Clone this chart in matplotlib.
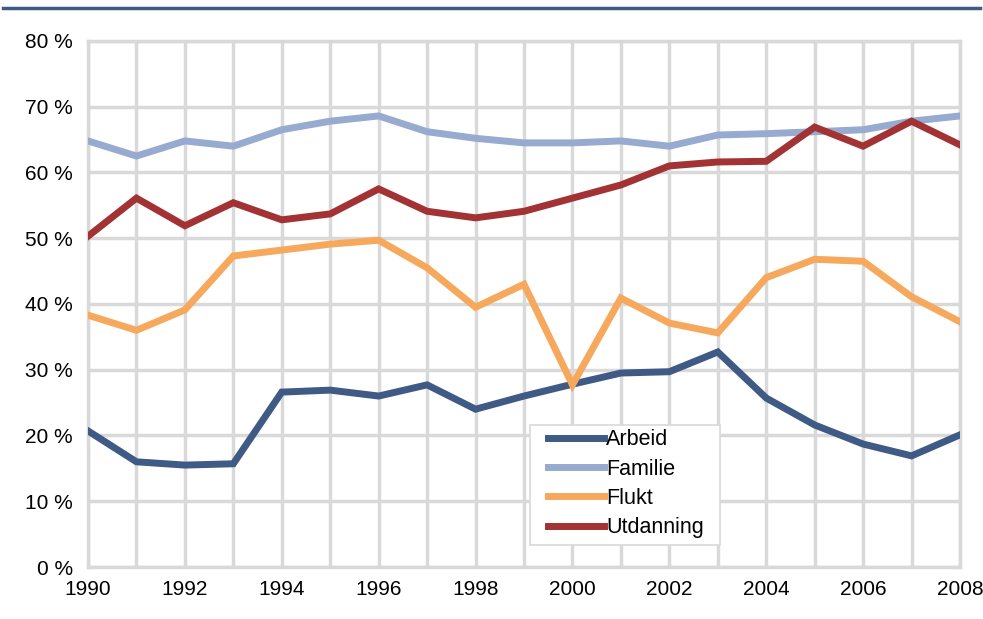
import matplotlib.pyplot as plt
from matplotlib.patches import Rectangle
from matplotlib.ticker import FuncFormatter

plt.rcParams['font.family'] = ['Liberation Sans', 'DejaVu Sans']

#Data
years = list(range(1990, 2009))
arbeid = [20.7, 16.0, 15.5, 15.7, 26.6, 26.9, 26.0, 27.7, 24.0, 26.0,
          27.8, 29.5, 29.7, 32.7, 25.7, 21.6, 18.7, 16.9, 20.1]
familie = [64.8, 62.5, 64.8, 64.0, 66.5, 67.8, 68.6, 66.2, 65.2, 64.5,
           64.5, 64.8, 64.0, 65.7, 65.9, 66.2, 66.5, 67.8, 68.6]
flukt = [38.3, 36.0, 39.1, 47.3, 48.2, 49.1, 49.7, 45.5, 39.5, 43.0,
         27.7, 40.9, 37.1, 35.6, 44.0, 46.8, 46.5, 41.1, 37.3]
utdanning = [50.3, 56.1, 51.9, 55.4, 52.8, 53.7, 57.5, 54.1, 53.1, 54.1,
             56.1, 58.1, 61.0, 61.6, 61.7, 66.9, 64.0, 67.8, 64.2]

series = [("Arbeid", arbeid, "#3E5A85"),
          ("Familie", familie, "#97AACF"),
          ("Flukt", flukt, "#F6A95C"),
          ("Utdanning", utdanning, "#A33234")]

fig = plt.figure(figsize=(9.83, 6.19), dpi=100)
ax = fig.add_axes([0.0895, 0.084, 0.8871, 0.8498])

for name, vals, col in series:
    ax.plot(years, vals, color=col, lw=5, label=name, zorder=3,
            solid_joinstyle='miter')

#Styling
grid_col = "#D9D9D9"
ax.set_xlim(1990, 2008)
ax.set_ylim(0, 80)
ax.set_xticks(range(1990, 2009, 2))
ax.set_xticks(years, minor=True)
ax.set_yticks(range(0, 81, 10))
ax.yaxis.set_major_formatter(FuncFormatter(lambda v, p: f"{int(v)} %"))
ax.grid(True, which='both', axis='x', color=grid_col, lw=2.5, zorder=0)
ax.grid(True, which='major', axis='y', color=grid_col, lw=2.5, zorder=0)
ax.tick_params(which='both', length=0, labelsize=15)
ax.tick_params(axis='x', pad=9)
ax.tick_params(axis='y', pad=11)
for s in ax.spines.values():
    s.set_color(grid_col)
    s.set_linewidth(2.5)
ax.set_axisbelow(True)

#Legend box drawn separately so the padding matches
ax.add_patch(Rectangle((0.507, 0.042), 0.218, 0.228, transform=ax.transAxes,
                       facecolor="white", edgecolor=grid_col, lw=1.2,
                       zorder=4))
leg = ax.legend(loc='upper left', bbox_to_anchor=(0.5275, 0.262), fontsize=15.5,
                handlelength=2.6, handletextpad=0.1, borderpad=0,
                labelspacing=0.39, frameon=False, borderaxespad=0)
leg.set_zorder(5)

#Top rule
fig.add_artist(plt.Line2D([0.003, 0.997], [0.987, 0.987], color="#3E5A85",
                          lw=2.5, transform=fig.transFigure))

plt.savefig("out.png", dpi=100)
